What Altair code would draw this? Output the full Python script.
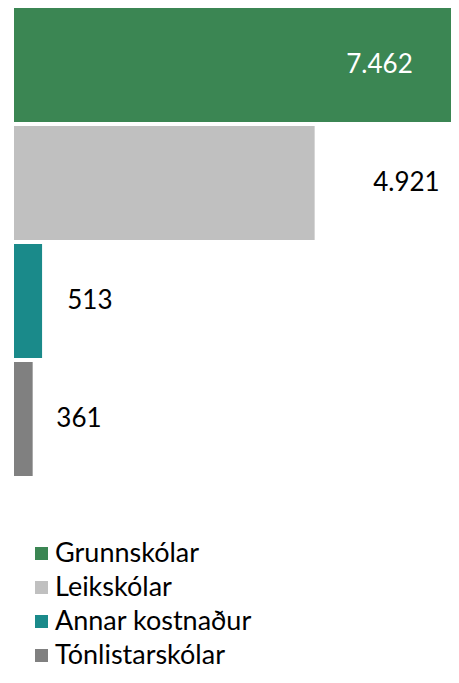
import altair as alt
import pandas as pd

categories = ["Grunnskólar", "Leikskólar", "Annar kostnaður", "Tónlistarskólar"]
values = [7462, 4921, 513, 361]
labels = ["7.462", "4.921", "513", "361"]
colors = ["#3B8653", "#C0C0C0", "#1A8A8A", "#808080"]

df = pd.DataFrame({"cat": categories, "value": values, "label": labels})

FONT = "Lato"
W = 437
H = 468

x_scale = alt.Scale(domain=[59, 7126], zero=False, clamp=True)
y_enc = alt.Y(
    "cat:N",
    sort=categories,
    axis=None,
    scale=alt.Scale(paddingInner=0.035, paddingOuter=0),
)

base = alt.Chart(df)

bars = base.mark_bar().encode(
    x=alt.X("value:Q", scale=x_scale, axis=None),
    x2=alt.datum(0),
    y=y_enc,
    color=alt.Color(
        "cat:N",
        sort=categories,
        scale=alt.Scale(domain=categories, range=colors),
        legend=alt.Legend(
            title=None,
            orient="none",
            legendX=14,
            legendY=532,
            direction="vertical",
            symbolType="square",
            symbolSize=169,
            symbolStrokeWidth=0,
            symbolOpacity=1,
            labelFont=FONT,
            labelFontSize=27,
            labelColor="black",
            labelOffset=0,
            labelLimit=400,
            rowPadding=6,
        ),
    ),
)

text = base.transform_calculate(
    lx="datum.value > 6000 ? datum.value * 0.8 : datum.value * 1.1614 + 690"
).mark_text(font=FONT, fontSize=26, align="center", baseline="middle").encode(
    x=alt.X("lx:Q", scale=x_scale, axis=None),
    y=y_enc,
    text="label:N",
    color=alt.condition("datum.value > 6000", alt.value("white"), alt.value("black")),
)

chart = (
    alt.layer(bars, text)
    .properties(width=W, height=H, padding={"left": 6, "top": 0, "right": 0, "bottom": 0})
    .configure_view(stroke=None)
)

chart.save("out.html", embed_options={"renderer": "svg", "actions": False})
